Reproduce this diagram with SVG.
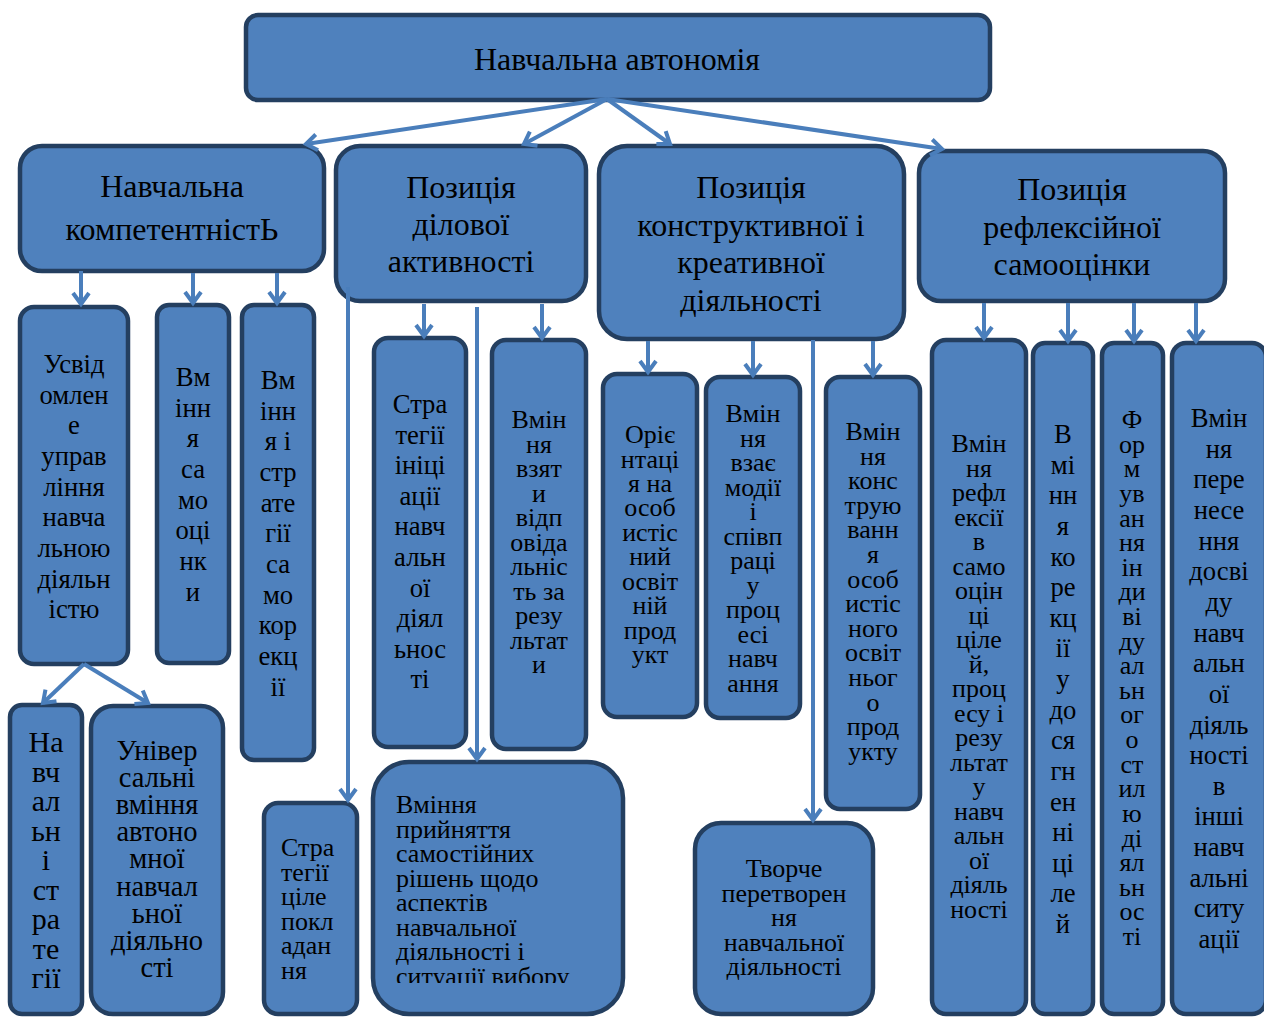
<svg xmlns="http://www.w3.org/2000/svg" width="1264" height="1018" viewBox="0 0 1264 1018">
<style>
.box{fill:#4F81BD;stroke:#243F60;stroke-width:4.5}
.t{font-family:"Liberation Serif","Times New Roman",serif;fill:#000;text-anchor:middle;font-size:26px}
.tl{font-family:"Liberation Serif","Times New Roman",serif;fill:#000;text-anchor:start;font-size:26px}
.h{font-size:32px}
.r{font-size:32px}
.m{font-size:26.67px}
.b30{font-size:30px}
.b28{font-size:28.5px}
.c{stroke:#4A7EBB;stroke-width:4;fill:none;marker-end:url(#arr)}
</style>
<defs>
<marker id="arr" markerUnits="userSpaceOnUse" markerWidth="26" markerHeight="26" refX="13" refY="10" orient="auto">
<path d="M2,2 L13,10 L2,18" fill="none" stroke="#4A7EBB" stroke-width="4"/>
</marker>
<clipPath id="clipB3"><rect x="360" y="750" width="280" height="233"/></clipPath>
</defs>
<rect width="1264" height="1018" fill="#fff"/>

<g id="root"><rect class="box" x="246" y="15" width="744" height="85" rx="12"/>
<text class="t r" x="617" y="70">Навчальна автономія</text></g>

<g id="n1"><rect class="box" x="20" y="146" width="304" height="125" rx="22"/>
<text class="t h"><tspan x="172" y="197">Навчальна</tspan><tspan x="172" y="240">компетентністЬ</tspan></text></g>

<g id="n2"><rect class="box" x="336" y="146" width="250" height="155" rx="24"/>
<text class="t h"><tspan x="461" y="198">Позиція</tspan><tspan x="461" y="235">ділової</tspan><tspan x="461" y="272">активності</tspan></text></g>

<g id="n3"><rect class="box" x="599" y="146" width="305" height="193" rx="28"/>
<text class="t h"><tspan x="751" y="198">Позиція</tspan><tspan x="751" y="235.5">конструктивної і</tspan><tspan x="751" y="273">креативної</tspan><tspan x="751" y="310.5">діяльності</tspan></text></g>

<g id="n4"><rect class="box" x="919" y="151" width="306" height="150" rx="22"/>
<text class="t h"><tspan x="1072" y="200">Позиція</tspan><tspan x="1072" y="237.5">рефлексійної</tspan><tspan x="1072" y="275">самооцінки</tspan></text></g>

<g id="a1"><rect class="box" x="20" y="307" width="108" height="357" rx="14"/>
<text class="t m"><tspan x="74" y="373">Усвід</tspan><tspan x="74" y="403.7">омлен</tspan><tspan x="74" y="434.3">е</tspan><tspan x="74" y="465">управ</tspan><tspan x="74" y="495.7">ління</tspan><tspan x="74" y="526.3">навча</tspan><tspan x="74" y="557">льною</tspan><tspan x="74" y="587.7">діяльн</tspan><tspan x="74" y="618.4">істю</tspan></text></g>

<g id="a2"><rect class="box" x="157" y="305" width="72" height="358" rx="12"/>
<text class="t m"><tspan x="193" y="386">Вм</tspan><tspan x="193" y="416.7">інн</tspan><tspan x="193" y="447.3">я</tspan><tspan x="193" y="478">са</tspan><tspan x="193" y="508.7">мо</tspan><tspan x="193" y="539.3">оці</tspan><tspan x="193" y="570">нк</tspan><tspan x="193" y="600.7">и</tspan></text></g>

<g id="a3"><rect class="box" x="242" y="305" width="72" height="455" rx="12"/>
<text class="t m"><tspan x="278" y="389">Вм</tspan><tspan x="278" y="419.7">інн</tspan><tspan x="278" y="450.3">я і</tspan><tspan x="278" y="481">стр</tspan><tspan x="278" y="511.7">ате</tspan><tspan x="278" y="542.3">гії</tspan><tspan x="278" y="573">са</tspan><tspan x="278" y="603.7">мо</tspan><tspan x="278" y="634.4">кор</tspan><tspan x="278" y="665">екц</tspan><tspan x="278" y="695.7">ії</tspan></text></g>

<g id="a4"><rect class="box" x="10" y="705" width="72" height="309" rx="12"/>
<text class="t b30"><tspan x="46" y="752">На</tspan><tspan x="46" y="781.5">вч</tspan><tspan x="46" y="811">ал</tspan><tspan x="46" y="840.5">ьн</tspan><tspan x="46" y="870">і</tspan><tspan x="46" y="899.5">ст</tspan><tspan x="46" y="929">ра</tspan><tspan x="46" y="958.5">те</tspan><tspan x="46" y="988">гії</tspan></text></g>

<g id="a5"><rect class="box" x="91" y="706" width="132" height="308" rx="22"/>
<text class="t b28"><tspan x="157" y="760">Універ</tspan><tspan x="157" y="787.1">сальні</tspan><tspan x="157" y="814.2">вміння</tspan><tspan x="157" y="841.3">автоно</tspan><tspan x="157" y="868.4">мної</tspan><tspan x="157" y="895.5">навчал</tspan><tspan x="157" y="922.6">ьної</tspan><tspan x="157" y="949.7">діяльно</tspan><tspan x="157" y="976.8">сті</tspan></text></g>

<g id="a6"><rect class="box" x="264" y="803" width="93" height="211" rx="14"/>
<text class="tl"><tspan x="281" y="856">Стра</tspan><tspan x="281" y="880.6">тегії</tspan><tspan x="281" y="905.2">ціле</tspan><tspan x="281" y="929.8">покл</tspan><tspan x="281" y="954.4">адан</tspan><tspan x="281" y="979">ня</tspan></text></g>

<g id="b1"><rect class="box" x="374" y="338" width="92" height="409" rx="14"/>
<text class="t m"><tspan x="420" y="413">Стра</tspan><tspan x="420" y="443.6">тегії</tspan><tspan x="420" y="474.2">ініці</tspan><tspan x="420" y="504.8">ації</tspan><tspan x="420" y="535.4">навч</tspan><tspan x="420" y="566">альн</tspan><tspan x="420" y="596.6">ої</tspan><tspan x="420" y="627.2">діял</tspan><tspan x="420" y="657.8">ьнос</tspan><tspan x="420" y="688.4">ті</tspan></text></g>

<g id="b2"><rect class="box" x="492" y="340" width="94" height="409" rx="14"/>
<text class="t"><tspan x="539" y="428">Вмін</tspan><tspan x="539" y="452.5">ня</tspan><tspan x="539" y="477">взят</tspan><tspan x="539" y="501.5">и</tspan><tspan x="539" y="526">відп</tspan><tspan x="539" y="550.5">овіда</tspan><tspan x="539" y="575">льніс</tspan><tspan x="539" y="599.5">ть за</tspan><tspan x="539" y="624">резу</tspan><tspan x="539" y="648.5">льтат</tspan><tspan x="539" y="673">и</tspan></text></g>

<g id="b3"><rect class="box" x="373" y="762" width="250" height="252" rx="36"/>
<text class="tl" clip-path="url(#clipB3)"><tspan x="396" y="813">Вміння</tspan><tspan x="396" y="837.5">прийняття</tspan><tspan x="396" y="862">самостійних</tspan><tspan x="396" y="886.5">рішень щодо</tspan><tspan x="396" y="911">аспектів</tspan><tspan x="396" y="935.5">навчальної</tspan><tspan x="396" y="960">діяльності і</tspan><tspan x="396" y="984.5">ситуації вибору</tspan></text></g>

<g id="c1"><rect class="box" x="603" y="374" width="94" height="343" rx="14"/>
<text class="t"><tspan x="650" y="443">Оріє</tspan><tspan x="650" y="467.5">нтаці</tspan><tspan x="650" y="491.9">я на</tspan><tspan x="650" y="516.4">особ</tspan><tspan x="650" y="540.8">истіс</tspan><tspan x="650" y="565.3">ний</tspan><tspan x="650" y="589.7">освіт</tspan><tspan x="650" y="614.2">ній</tspan><tspan x="650" y="638.6">прод</tspan><tspan x="650" y="663">укт</tspan></text></g>

<g id="c2"><rect class="box" x="706" y="377" width="94" height="341" rx="14"/>
<text class="t"><tspan x="753" y="422">Вмін</tspan><tspan x="753" y="446.5">ня</tspan><tspan x="753" y="471">взає</tspan><tspan x="753" y="495.5">модії</tspan><tspan x="753" y="520">і</tspan><tspan x="753" y="544.5">співп</tspan><tspan x="753" y="569">раці</tspan><tspan x="753" y="593.5">у</tspan><tspan x="753" y="618">проц</tspan><tspan x="753" y="642.5">есі</tspan><tspan x="753" y="667">навч</tspan><tspan x="753" y="691.5">ання</tspan></text></g>

<g id="c3"><rect class="box" x="826" y="377" width="94" height="432" rx="14"/>
<text class="t"><tspan x="873" y="440">Вмін</tspan><tspan x="873" y="464.6">ня</tspan><tspan x="873" y="489.2">конс</tspan><tspan x="873" y="513.8">трую</tspan><tspan x="873" y="538.4">ванн</tspan><tspan x="873" y="563">я</tspan><tspan x="873" y="587.6">особ</tspan><tspan x="873" y="612.2">истіс</tspan><tspan x="873" y="636.8">ного</tspan><tspan x="873" y="661.4">освіт</tspan><tspan x="873" y="686">ньог</tspan><tspan x="873" y="710.6">о</tspan><tspan x="873" y="735.2">прод</tspan><tspan x="873" y="759.8">укту</tspan></text></g>

<g id="c4"><rect class="box" x="695" y="823" width="178" height="191" rx="26"/>
<text class="t"><tspan x="784" y="877">Творче</tspan><tspan x="784" y="901.5">перетворен</tspan><tspan x="784" y="926">ня</tspan><tspan x="784" y="950.5">навчальної</tspan><tspan x="784" y="975">діяльності</tspan></text></g>

<g id="d1"><rect class="box" x="932" y="340" width="94" height="674" rx="14"/>
<text class="t"><tspan x="979" y="452">Вмін</tspan><tspan x="979" y="476.5">ня</tspan><tspan x="979" y="501">рефл</tspan><tspan x="979" y="525.5">ексії</tspan><tspan x="979" y="550">в</tspan><tspan x="979" y="574.5">само</tspan><tspan x="979" y="599">оцін</tspan><tspan x="979" y="623.5">ці</tspan><tspan x="979" y="648">ціле</tspan><tspan x="979" y="672.5">й,</tspan><tspan x="979" y="697">проц</tspan><tspan x="979" y="721.5">есу і</tspan><tspan x="979" y="746">резу</tspan><tspan x="979" y="770.5">льтат</tspan><tspan x="979" y="795">у</tspan><tspan x="979" y="819.5">навч</tspan><tspan x="979" y="844">альн</tspan><tspan x="979" y="868.5">ої</tspan><tspan x="979" y="893">діяль</tspan><tspan x="979" y="917.5">ності</tspan></text></g>

<g id="d2"><rect class="box" x="1033" y="343" width="60" height="671" rx="12"/>
<text class="t m"><tspan x="1063" y="443">В</tspan><tspan x="1063" y="473.6">мі</tspan><tspan x="1063" y="504.3">нн</tspan><tspan x="1063" y="534.9">я</tspan><tspan x="1063" y="565.5">ко</tspan><tspan x="1063" y="596.1">ре</tspan><tspan x="1063" y="626.8">кц</tspan><tspan x="1063" y="657.4">ії</tspan><tspan x="1063" y="688">у</tspan><tspan x="1063" y="718.6">до</tspan><tspan x="1063" y="749.3">ся</tspan><tspan x="1063" y="779.9">гн</tspan><tspan x="1063" y="810.5">ен</tspan><tspan x="1063" y="841.1">ні</tspan><tspan x="1063" y="871.8">ці</tspan><tspan x="1063" y="902.4">ле</tspan><tspan x="1063" y="933">й</tspan></text></g>

<g id="d3"><rect class="box" x="1102" y="343" width="61" height="671" rx="12"/>
<text class="t"><tspan x="1132" y="428">Ф</tspan><tspan x="1132" y="452.6">ор</tspan><tspan x="1132" y="477.2">м</tspan><tspan x="1132" y="501.9">ув</tspan><tspan x="1132" y="526.5">ан</tspan><tspan x="1132" y="551.1">ня</tspan><tspan x="1132" y="575.7">ін</tspan><tspan x="1132" y="600.3">ди</tspan><tspan x="1132" y="625">ві</tspan><tspan x="1132" y="649.6">ду</tspan><tspan x="1132" y="674.2">ал</tspan><tspan x="1132" y="698.8">ьн</tspan><tspan x="1132" y="723.4">ог</tspan><tspan x="1132" y="748.1">о</tspan><tspan x="1132" y="772.7">ст</tspan><tspan x="1132" y="797.3">ил</tspan><tspan x="1132" y="821.9">ю</tspan><tspan x="1132" y="846.5">ді</tspan><tspan x="1132" y="871.2">ял</tspan><tspan x="1132" y="895.8">ьн</tspan><tspan x="1132" y="920.4">ос</tspan><tspan x="1132" y="945">ті</tspan></text></g>

<g id="d4"><rect class="box" x="1172" y="343" width="94" height="671" rx="14"/>
<text class="t m"><tspan x="1219" y="427">Вмін</tspan><tspan x="1219" y="457.6">ня</tspan><tspan x="1219" y="488.3">пере</tspan><tspan x="1219" y="518.9">несе</tspan><tspan x="1219" y="549.6">ння</tspan><tspan x="1219" y="580.2">досві</tspan><tspan x="1219" y="610.9">ду</tspan><tspan x="1219" y="641.5">навч</tspan><tspan x="1219" y="672.2">альн</tspan><tspan x="1219" y="702.8">ої</tspan><tspan x="1219" y="733.5">діяль</tspan><tspan x="1219" y="764.1">ності</tspan><tspan x="1219" y="794.8">в</tspan><tspan x="1219" y="825.4">інші</tspan><tspan x="1219" y="856.1">навч</tspan><tspan x="1219" y="886.7">альні</tspan><tspan x="1219" y="917.4">ситу</tspan><tspan x="1219" y="948">ації</tspan></text></g>

<g id="connectors">
<path class="c" d="M607,99 L306,144"/>
<path class="c" d="M607,99 L524,144"/>
<path class="c" d="M607,99 L670,144"/>
<path class="c" d="M607,99 L942,149"/>
<path class="c" d="M81,271 L81,304"/>
<path class="c" d="M193,273 L193,303"/>
<path class="c" d="M277,273 L277,303"/>
<path class="c" d="M84,664 L43,703"/>
<path class="c" d="M84,664 L148,703"/>
<path class="c" d="M348,287 L348,800"/>
<path class="c" d="M424,304 L424,336"/>
<path class="c" d="M542,304 L542,338"/>
<path class="c" d="M477,307 L477,759"/>
<path class="c" d="M648,341 L648,372"/>
<path class="c" d="M753,341 L753,375"/>
<path class="c" d="M873,341 L873,375"/>
<path class="c" d="M813,340 L813,820"/>
<path class="c" d="M984,303 L984,338"/>
<path class="c" d="M1068,303 L1068,341"/>
<path class="c" d="M1134,303 L1134,341"/>
<path class="c" d="M1196,303 L1196,341"/>
</g>
</svg>
